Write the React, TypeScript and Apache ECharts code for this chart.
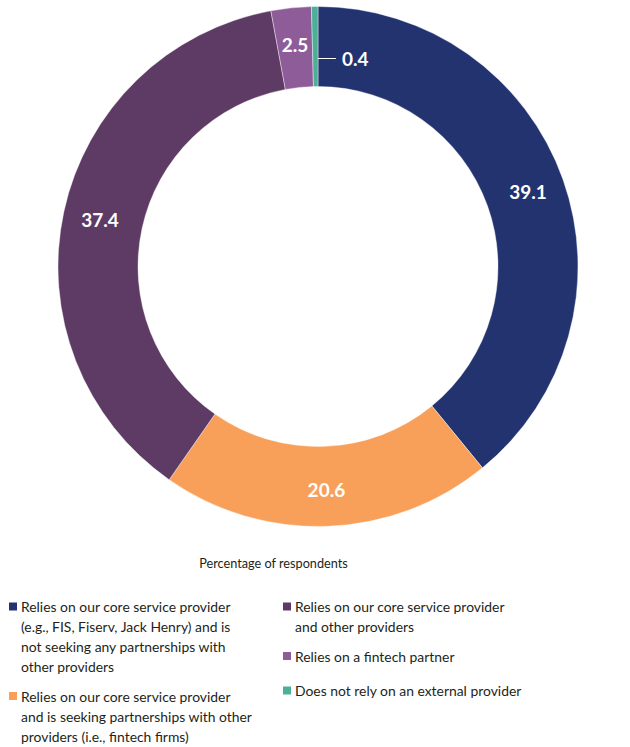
import React, { useEffect, useRef } from "react";
import * as echarts from "echarts";

const categories = [
  "Relies on our core service provider (e.g., FIS, Fiserv, Jack Henry) and is not seeking any partnerships with other providers",
  "Relies on our core service provider and is seeking partnerships with other providers (i.e., fintech firms)",
  "Relies on our core service provider and other providers",
  "Relies on a fintech partner",
  "Does not rely on an external provider",
];
const legendTexts = [
  "Relies on our core service provider\n(e.g., FIS, Fiserv, Jack Henry) and is\nnot seeking any partnerships with\nother providers",
  "Relies on our core service provider\nand is seeking partnerships with other\nproviders (i.e., fintech firms)",
  "Relies on our core service provider\nand other providers",
  "Relies on a fintech partner",
  "Does not rely on an external provider",
];
const values = [39.1, 20.6, 37.4, 2.5, 0.4];
const colors = ["#223370", "#f89f5a", "#5e3b64", "#8e5c99", "#4bb096"];
const axisTitle = "Percentage of respondents";

// legend placement: [x, y of first line center]
const legendPos: [number, number][] = [
  [9, 606.5],
  [9, 696],
  [283, 606.5],
  [283, 656],
  [283, 690.5],
];

const FONT = "Lato, 'Open Sans', sans-serif";

export default function App() {
  const ref = useRef<HTMLDivElement>(null);
  useEffect(() => {
    if (!ref.current) return;
    const chart = echarts.init(ref.current, undefined, { renderer: "svg" });
    const lineH = 20;
    const graphics: any[] = [];
    categories.forEach((c, i) => {
      const [x, y] = legendPos[i];
      graphics.push({
        type: "rect",
        shape: { x, y: y - 4, width: 8, height: 8 },
        style: { fill: colors[i] },
      });
      graphics.push({
        type: "text",
        x: x + 12,
        y: y - lineH / 2,
        style: {
          text: legendTexts[i],
          font: `13.9px ${FONT}`,
          fill: "#231f20",
          lineHeight: lineH,
          verticalAlign: "top",
          align: "left",
        },
      });
    });
    graphics.push({
      type: "text",
      x: 273.5,
      y: 563,
      style: {
        text: axisTitle,
        font: `12.7px ${FONT}`,
        fill: "#231f20",
        align: "center",
        verticalAlign: "middle",
      },
    });

    chart.setOption({
      animation: false,
      graphic: graphics,
      series: [
        {
          type: "pie",
          center: [318, 266.5],
          radius: [180, 260],
          startAngle: 90,
          clockwise: true,
          avoidLabelOverlap: false,
          itemStyle: { borderColor: "#ffffff", borderWidth: 0.4 },
          label: {
            show: true,
            position: "inside",
            color: "#ffffff",
            fontFamily: FONT,
            fontWeight: "bold",
            fontSize: 19,
            formatter: (p: any) => String(p.value),
          },
          labelLine: { show: false },
          data: categories.map((c, i) => {
            const d: any = {
              name: c,
              value: values[i],
              itemStyle: { color: colors[i] },
            };
            if (i === 4) {
              d.label = {
                offset: [28, 15],
                formatter: "{l|}{v|" + values[i] + "}",
                rich: {
                  l: { width: 18, height: 1, backgroundColor: "#ffffff" },
                  v: {
                    color: "#ffffff",
                    fontFamily: FONT,
                    fontWeight: "bold",
                    fontSize: 19,
                    padding: [0, 0, 0, 6],
                  },
                },
              };
            }
            return d;
          }),
        },
      ],
    });
    return () => chart.dispose();
  }, []);
  return (
    <div
      ref={ref}
      style={{ position: "absolute", left: 0, top: 0, width: 630, height: 747 }}
    />
  );
}
